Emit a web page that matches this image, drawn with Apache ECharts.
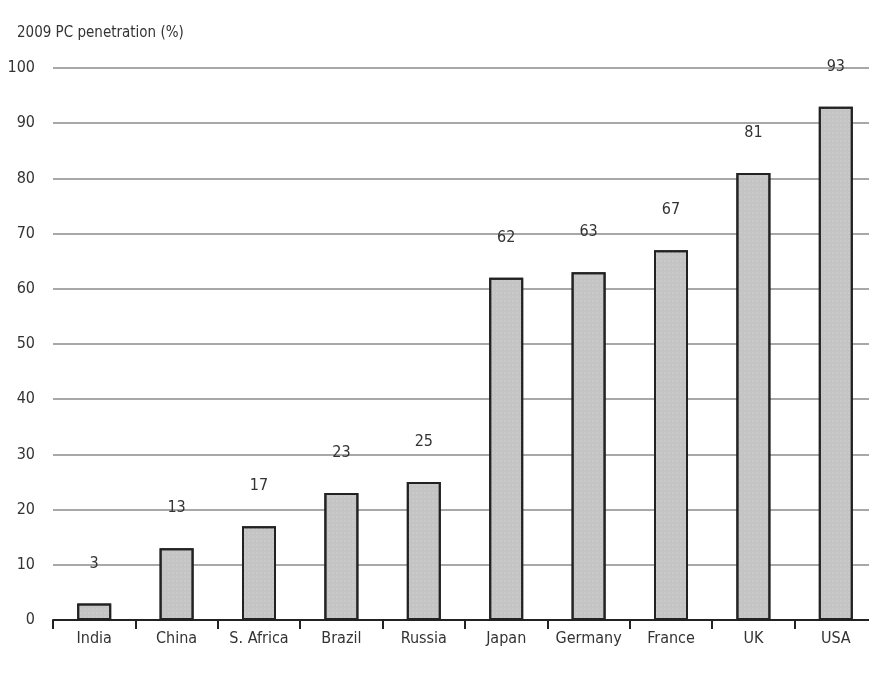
<!DOCTYPE html>
<html>
<head>
<meta charset="utf-8">
<script src="https://cdn.jsdelivr.net/npm/echarts@6/dist/echarts.min.js"></script>
<style>
  html, body { margin: 0; padding: 0; background: #fff; overflow: hidden; }
  #wrap { width: 869px; height: 682px; overflow: hidden; }
  /* the drawing surface is a little wider so the last category runs past the right edge */
  #chart { width: 880px; height: 682px; }
</style>
</head>
<body>
<div id="wrap"><div id="chart"></div></div>
<script>
// PC penetration by country, 2009
const countries = ['India', 'China', 'S. Africa', 'Brazil', 'Russia', 'Japan', 'Germany', 'France', 'UK', 'USA'];
const penetration = [3, 13, 17, 23, 25, 62, 63, 67, 81, 93];
const yTicks = [0, 10, 20, 30, 40, 50, 60, 70, 80, 90, 100];

const font = '"DejaVu Sans Condensed", "Liberation Sans Narrow", "Liberation Sans", sans-serif';

const chart = echarts.init(document.getElementById('chart'), null, { renderer: 'canvas' });

chart.setOption({
  animation: false,
  backgroundColor: '#ffffff',
  title: {
    text: '2009 PC penetration (%)',
    left: 12,
    top: 21,
    textStyle: { fontFamily: font, fontSize: 15, fontWeight: 'normal', color: '#333' }
  },
  grid: { left: 53, top: 68, right: 3, height: 552, containLabel: false },
  xAxis: {
    type: 'category',
    data: countries,
    axisLine: { lineStyle: { color: '#222', width: 2 } },
    axisTick: { show: true, interval: 0, length: 9, lineStyle: { color: '#222', width: 2 } },
    axisLabel: { interval: 0, fontFamily: font, fontSize: 16, color: '#333', margin: 11 }
  },
  yAxis: {
    type: 'value',
    min: yTicks[0],
    max: yTicks[yTicks.length - 1],
    interval: 10,
    axisLine: { show: false },
    axisTick: { show: false },
    axisLabel: { fontFamily: font, fontSize: 16, color: '#333', margin: 18 },
    splitLine: { lineStyle: { color: '#a8a8a8', width: 2 } }
  },
  series: [{
    type: 'bar',
    data: penetration,
    barWidth: 34,
    itemStyle: {
      color: '#c4c4c4',
      borderColor: '#222',
      borderWidth: 2,
      decal: {
        symbol: 'rect',
        symbolSize: 0.5,
        color: 'rgba(255,255,255,0.35)',
        dashArrayX: [2, 2],
        dashArrayY: [2, 2],
        rotation: 0
      }
    },
    label: {
      show: true,
      position: 'top',
      distance: 32,
      fontFamily: font,
      fontSize: 16,
      color: '#333'
    }
  }]
});
</script>
</body>
</html>
